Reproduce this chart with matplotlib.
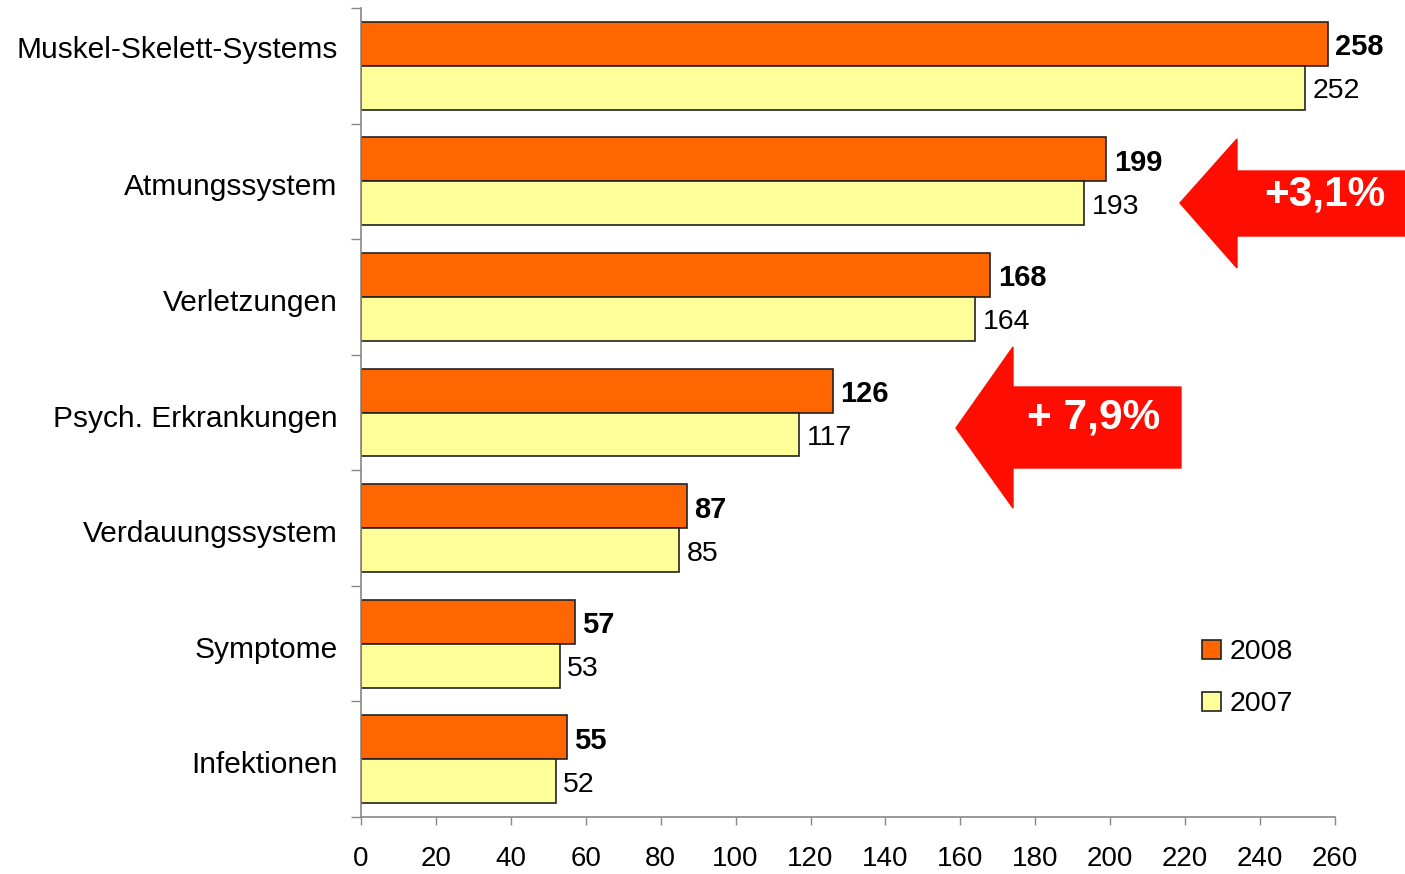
import numpy as np
import matplotlib
matplotlib.use('Agg')
import matplotlib.pyplot as plt
from matplotlib.patches import Polygon
from matplotlib.transforms import ScaledTranslation

plt.rcParams['font.family'] = ['Liberation Sans', 'DejaVu Sans']

categories = ['Muskel-Skelett-Systems', 'Atmungssystem', 'Verletzungen',
              'Psych. Erkrankungen', 'Verdauungssystem', 'Symptome', 'Infektionen']
v2008 = [258, 199, 168, 126, 87, 57, 55]
v2007 = [252, 193, 164, 117, 85, 53, 52]
xticks = list(range(0, 261, 20))

W, H = 1405, 874
fig = plt.figure(figsize=(W / 100, H / 100), dpi=100)
ax = fig.add_axes([361 / W, 1 - 817 / H, (1335 - 361) / W, (817 - 8) / H])

def shift(dx, dy):
    # offset in pixels (dpi 100)
    return ScaledTranslation(dx / 100, dy / 100, fig.dpi_scale_trans)

y = np.arange(len(categories))
h = 0.38
ax.barh(y - h / 2, v2008, height=h, color='#ff6600', edgecolor='#222222', lw=1.2, label='2008')
ax.barh(y + h / 2, v2007, height=h, color='#ffff99', edgecolor='#222222', lw=1.2, label='2007')

down = ax.transData + shift(0, -3.5)
for yi, a, b in zip(y, v2008, v2007):
    ax.text(a + 2, yi - h / 2, str(a), va='center', ha='left', fontsize=21,
            fontweight='bold', transform=down)
    ax.text(b + 2, yi + h / 2, str(b), va='center', ha='left', fontsize=20.5, transform=down)

ax.set_xlim(0, 260)
ax.set_ylim(len(categories) - 0.5, -0.5)
ax.set_xticks(xticks)
ax.set_xticklabels([str(t) for t in xticks], fontsize=20)
ax.tick_params(axis='x', length=6, width=1, color='#888888', pad=15)

ax.set_yticks(y)
ax.set_yticklabels(categories, fontsize=21.5)
ax.tick_params(axis='y', which='major', length=0, pad=17)
ax.set_yticks(np.arange(-0.5, len(categories), 1), minor=True)
ax.tick_params(axis='y', which='minor', length=7, width=1, color='#888888')
for i, lab in enumerate(ax.get_yticklabels()):
    # first label sits a bit higher in the original
    lab.set_transform(lab.get_transform() + shift(0, 19 if i == 0 else -3))

for s in ['top', 'right']:
    ax.spines[s].set_visible(False)
for s in ['left', 'bottom']:
    ax.spines[s].set_color('#888888')
    ax.spines[s].set_linewidth(1.2)

ax.legend(loc='upper left', bbox_to_anchor=(1191 / W, 1 - 628 / H), bbox_transform=fig.transFigure,
          frameon=False, fontsize=20.5, handlelength=0.65, handleheight=0.65,
          handletextpad=0.3, labelspacing=0.9, borderaxespad=0)

# red arrows (pixel outlines)
red = '#ff0d00'
def arrow(pts, text, tx, ty):
    pts = [(px / W, 1 - py / H) for px, py in pts]
    fig.patches.append(Polygon(pts, closed=True, color=red, transform=fig.transFigure, zorder=5))
    fig.text(tx / W, 1 - ty / H, text, color='white', fontsize=30.5, fontweight='bold',
             ha='center', va='center', zorder=6)

arrow([(1180, 203), (1237, 139), (1237, 171), (1405, 171), (1405, 236), (1237, 236), (1237, 268)],
      '+3,1%', 1325, 194)
arrow([(956, 428), (1013, 347), (1013, 387), (1181, 387), (1181, 468), (1013, 468), (1013, 508)],
      '+ 7,9%', 1094, 417)

fig.savefig('out.png', dpi=100)
